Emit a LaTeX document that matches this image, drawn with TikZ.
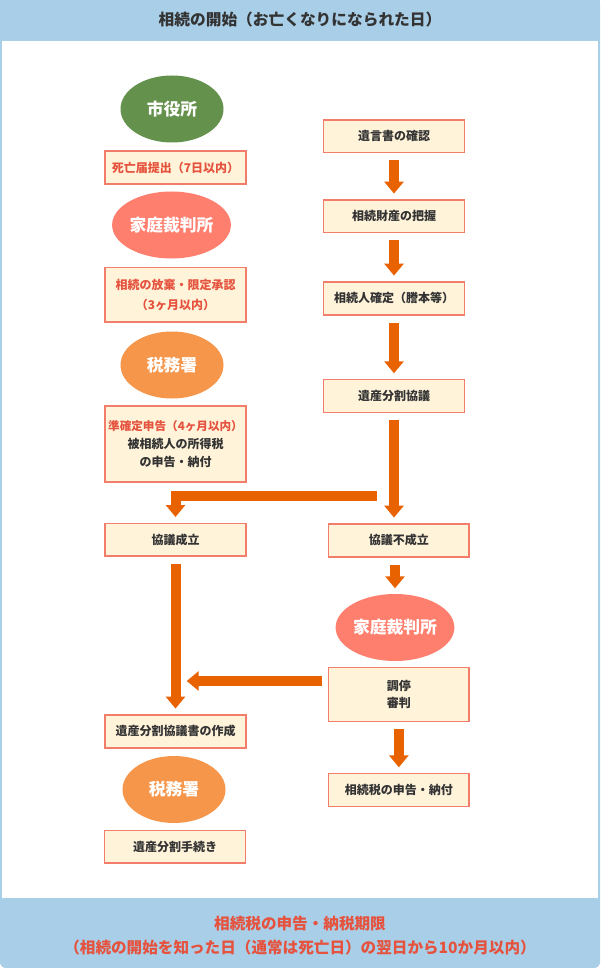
\documentclass[tikz,border=0pt]{standalone}
\usepackage{fontspec}
\setmainfont{Noto Sans CJK JP}
\usetikzlibrary{shapes.geometric, arrows.meta}
\definecolor{hdrblue}{HTML}{A9CFE8}
\definecolor{boxline}{HTML}{F27D6B}
\definecolor{boxfill}{HTML}{FFF3DA}
\definecolor{redtxt}{HTML}{E5533F}
\definecolor{darktxt}{HTML}{333333}
\definecolor{cityg}{HTML}{64914B}
\definecolor{courtc}{HTML}{FF7F6F}
\definecolor{taxc}{HTML}{F5964B}
\definecolor{arrc}{HTML}{E96200}
\tikzset{
  stepbox/.style={draw=boxline, line width=1.6pt, fill=boxfill, minimum width=140.8pt,
    minimum height=32.8pt, inner sep=0pt, align=center, text=darktxt,
    font=\bfseries\fontsize{12}{18}\selectfont},
  oval/.style={ellipse, minimum width=103pt, minimum height=67pt, inner sep=0pt,
    text=white, font=\bfseries\fontsize{16.8}{18}\selectfont},
  arr/.style={draw=arrc, line width=10pt, -{Triangle[width=19pt,length=12pt]},
    shorten <=7pt, shorten >=5.5pt},
}
\begin{document}
\begin{tikzpicture}[x=1pt, y=-1pt]
\useasboundingbox (0,0) rectangle (600,968);
% frame
\fill[white] (0,0) rectangle (600,968);
\fill[hdrblue, rounded corners=6pt] (0,0) rectangle (600,968);
\fill[hdrblue] (0,0) rectangle (600,20);
\fill[white] (2,40.7) rectangle (597.5,898.3);
\node[font=\bfseries\fontsize{15.7}{18}\selectfont, text=darktxt] (title) at (300,20) {相続の開始（お亡くなりになられた日）};
\node[align=center, text=redtxt, font=\bfseries\fontsize{15.6}{24}\selectfont] (deadline) at (300,936)
  {相続税の申告・納税期限\\（相続の開始を知った日（通常は死亡日）の翌日から10か月以内）};
% left column
\node[oval, fill=cityg] (city) at (172,109) {市役所};
\node[stepbox, text=redtxt] (death) at (175.5,167.5) {死亡届提出（7日以内）};
\node[oval, fill=courtc] (court1) at (171.5,225) {家庭裁判所};
\node[stepbox, minimum height=54.5pt, text=redtxt, font=\bfseries\fontsize{12}{20}\selectfont] (renounce) at (175.5,294.7) {相続の放棄・限定承認\\（3ヶ月以内）};
\node[oval, fill=taxc] (tax1) at (172,365) {税務署};
\node[stepbox, minimum height=76.5pt] (final) at (175.5,444) {\textcolor{redtxt}{\fontsize{11.6}{18}\selectfont 準確定申告（4ヶ月以内）}\\被相続人の所得税\\の申告・納付};
\node[stepbox] (agree) at (175.5,539.7) {協議成立};
\node[stepbox] (deed) at (175.5,731.3) {遺産分割協議書の作成};
\node[oval, fill=taxc] (tax2) at (174,789.5) {税務署};
\node[stepbox] (proc) at (175,846.7) {遺産分割手続き};
% right column
\node[stepbox] (will) at (394,136.3) {遺言書の確認};
\node[stepbox] (estate) at (394,216.3) {相続財産の把握};
\node[stepbox] (heirs) at (394,298.3) {相続人確定（謄本等）};
\node[stepbox] (divide) at (394,396) {遺産分割協議};
\node[stepbox] (fail) at (398.85,540.3) {協議不成立};
\node[oval, fill=courtc] (court2) at (395,627.5) {家庭裁判所};
\node[stepbox, minimum height=54pt, font=\bfseries\fontsize{12}{17}\selectfont] (mediate) at (398.85,694.5) {調停\\審判};
\node[stepbox] (paytax) at (398.85,790) {相続税の申告・納付};
% connectors
\coordinate (split) at (376.7,495.6);
\coordinate (merge) at (175.5,681);
\draw[arr] (will) -- (estate);
\draw[arr] (estate) -- (heirs);
\draw[arr] (heirs) -- (divide);
\draw[arr] (divide.south) -- (divide.south |- fail.north);
\draw[arr, shorten <=0pt] (split) -| (agree.north);
\draw[arr] (court2.north |- fail.south) -- (court2.north);
\draw[arr] (agree) -- (deed);
\draw[arr, shorten <=5.5pt, shorten >=11.2pt] (mediate.west |- merge) -- (merge);
\draw[arr] (mediate) -- (paytax);
\end{tikzpicture}
\end{document}
